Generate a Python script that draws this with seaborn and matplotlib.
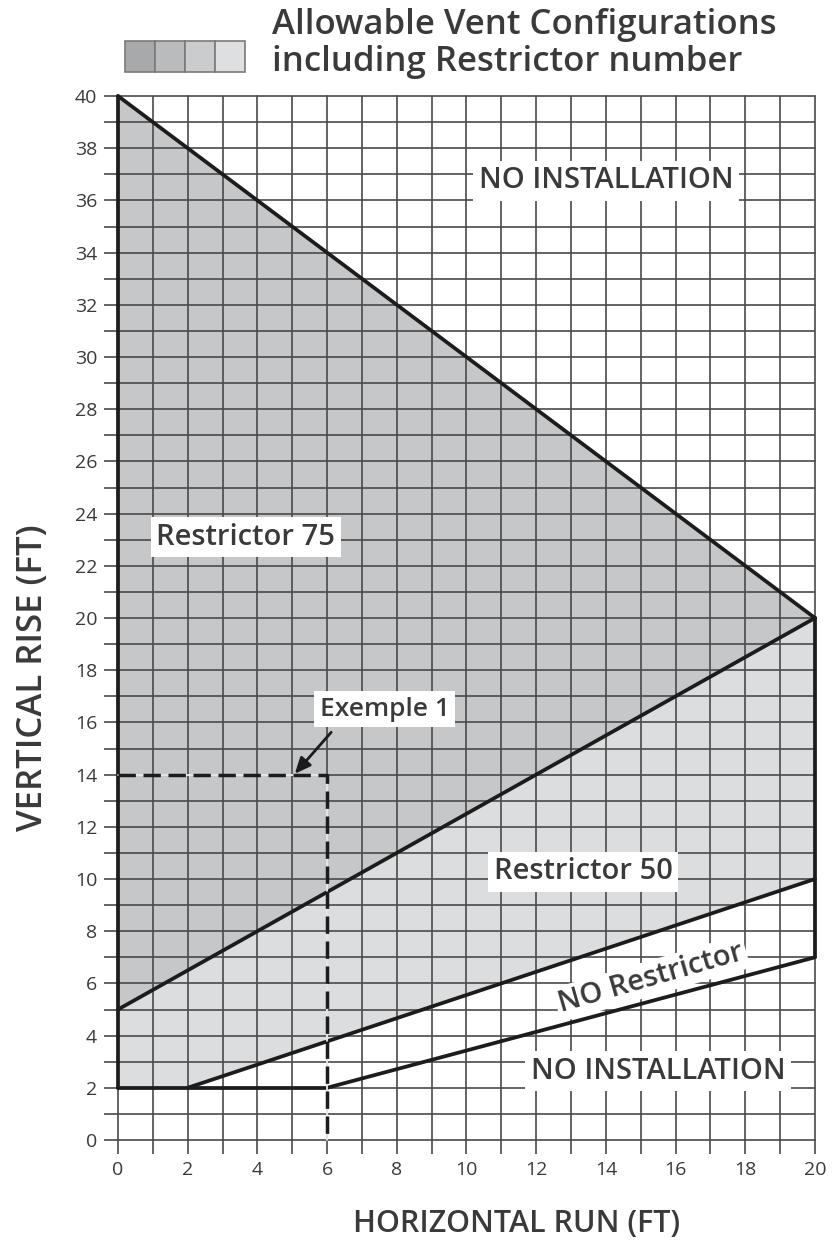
import pandas as pd
import numpy as np
import matplotlib.pyplot as plt
import seaborn as sns
from matplotlib.patches import Rectangle

# zones (horizontal run, vertical rise)
r75_x = [0, 20, 0]
r75_y = [40, 20, 5]
r50_x = [0, 20, 20, 2, 0]
r50_y = [5, 20, 10, 2, 2]

# limit lines of the chart
seg_names = ["left", "top", "r75", "bottom", "r50", "norestr", "right"]
seg_x = [[0, 0], [0, 20], [0, 20], [0, 6], [2, 20], [6, 20], [20, 20]]
seg_y = [[2, 40], [40, 20], [5, 20], [2, 2], [2, 10], [2, 7], [20, 7]]

# example 1
ex_x = [0, 6, 6]
ex_y = [14, 14, 0]

legend_colors = ["#a8a9ab", "#babbbd", "#cbcccd", "#dedfe0"]

sns.set_theme(style="white")
plt.rcParams["font.family"] = ["Open Sans", "DejaVu Sans"]
txt_col = "#3a3a3a"
W, H = 835, 1241

fig = plt.figure(figsize=(8.35, 12.41), dpi=100)
ax = fig.add_axes([118 / W, 1 - 1140 / H, 697 / W, 1044 / H])

ax.fill(r75_x, r75_y, color="#c6c7c9", zorder=1, lw=0)
ax.fill(r50_x, r50_y, color="#dcdddf", zorder=1, lw=0)

ax.set_xlim(0, 20)
ax.set_ylim(0, 40)
ax.set_xticks(np.arange(0, 21, 2))
ax.set_xticks(np.arange(0, 21, 1), minor=True)
ax.set_yticks(np.arange(0, 41, 2))
ax.set_yticks(np.arange(0, 41, 1), minor=True)
ax.grid(True, which="both", color="#4a4a4a", lw=1.2, zorder=2)
ax.set_axisbelow(False)
for s in ax.spines.values():
    s.set_visible(False)
ax.tick_params(which="both", direction="out", length=10, width=1.2, color="#4a4a4a",
               left=True, bottom=True, labelsize=14, labelcolor=txt_col, pad=5)
for gl in ax.get_xgridlines() + ax.get_ygridlines():
    gl.set_clip_on(False)
    gl.set_zorder(2)

rows = []
for name, xs, ys in zip(seg_names, seg_x, seg_y):
    for x, y in zip(xs, ys):
        rows.append({"seg": name, "x": x, "y": y})
segs = pd.DataFrame(rows)
sns.lineplot(data=segs, x="x", y="y", units="seg", estimator=None, sort=False,
             color="#1c1c1c", lw=2.7, ax=ax, zorder=4, clip_on=False)
ax.set_xlabel("")
ax.set_ylabel("")

ax.plot(ex_x, ex_y, color="white", lw=1.2, zorder=5, clip_on=False)
ax.plot(ex_x, ex_y, color="#1c1c1c", lw=2.5, dashes=(5, 2.2), zorder=6, clip_on=False)

box = dict(facecolor="white", edgecolor="none", pad=4)
kw = dict(fontsize=21, fontweight="semibold", color=txt_col, ha="center", va="center",
          bbox=box, zorder=7)
ax.text(14.0, 36.75, "NO INSTALLATION", **kw)
ax.text(3.67, 23.1, "Restrictor 75", **kw)
ax.text(13.35, 10.27, "Restrictor 50", **kw)
ax.text(15.3, 6.2, "NO Restrictor", rotation=16, **{**kw, "bbox": dict(facecolor="white", edgecolor="none", pad=2)})
ax.text(15.5, 2.64, "NO INSTALLATION", **kw)
ax.text(7.65, 16.5, "Exemple 1", **{**kw, "fontsize": 19})
ax.annotate("", xy=(5.02, 13.95), xytext=(6.17, 15.7),
            arrowprops=dict(arrowstyle="-|>,head_length=0.8,head_width=0.35",
                            color="#1c1c1c", lw=2), zorder=7)

fig.text(517 / W, 1 - 1224 / H, "HORIZONTAL RUN (FT)", fontsize=22, fontweight="semibold",
         color=txt_col, ha="center", va="center")
fig.text(33 / W, 1 - 678 / H, "VERTICAL RISE (FT)", fontsize=25, fontweight="semibold",
         color=txt_col, ha="center", va="center", rotation=90)

# legend swatches and heading
for i, c in enumerate(legend_colors):
    fig.patches.append(Rectangle(((125 + i * 30) / W, 1 - 72 / H), 30 / W, 31 / H,
                                 transform=fig.transFigure, facecolor=c,
                                 edgecolor="#7a7a7a", lw=1.2))
fig.text(272 / W, 1 - 25 / H, "Allowable Vent Configurations", fontsize=25,
         fontweight="semibold", color=txt_col, va="center", ha="left")
fig.text(272 / W, 1 - 62 / H, "including Restrictor number", fontsize=25,
         fontweight="semibold", color=txt_col, va="center", ha="left")

fig.savefig("out.png", dpi=100)
